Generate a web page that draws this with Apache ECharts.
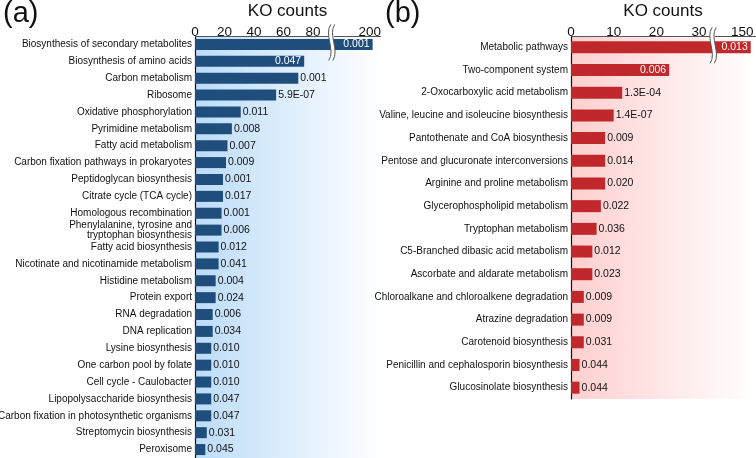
<!DOCTYPE html>
<html><head><meta charset="utf-8">
<script src="https://cdn.jsdelivr.net/npm/echarts@6/dist/echarts.min.js"></script>
<style>html,body{margin:0;padding:0;background:#fff}#c{width:756px;height:458px}</style>
</head><body><div id="c"></div>
<script>
const categoriesA = ['Biosynthesis of secondary metabolites','Biosynthesis of amino acids','Carbon metabolism','Ribosome','Oxidative phosphorylation','Pyrimidine metabolism','Fatty acid metabolism','Carbon fixation pathways in prokaryotes','Peptidoglycan biosynthesis','Citrate cycle (TCA cycle)','Homologous recombination','Phenylalanine, tyrosine and\ntryptophan biosynthesis','Fatty acid biosynthesis','Nicotinate and nicotinamide metabolism','Histidine metabolism','Protein export','RNA degradation','DNA replication','Lysine biosynthesis','One carbon pool by folate','Cell cycle - Caulobacter','Lipopolysaccharide biosynthesis','Carbon fixation in photosynthetic organisms','Streptomycin biosynthesis','Peroxisome'];
const countsA = [202,74,70,55,31,25,22,21,19,19,18,18,16,16,14,14,12,12,11,11,11,11,11,8,7];
const pvalsA = ['0.001','0.047','0.001','5.9E-07','0.011','0.008','0.007','0.009','0.001','0.017','0.001','0.006','0.012','0.041','0.004','0.024','0.006','0.034','0.010','0.010','0.010','0.047','0.047','0.031','0.045'];
const ticksA = [0,20,40,60,80,200];
const breakA = [91,176];

const categoriesB = ['Metabolic pathways','Two-component system','2-Oxocarboxylic acid metabolism','Valine, leucine and isoleucine biosynthesis','Pantothenate and CoA biosynthesis','Pentose and glucuronate interconversions','Arginine and proline metabolism','Glycerophospholipid metabolism','Tryptophan metabolism','C5-Branched dibasic acid metabolism','Ascorbate and aldarate metabolism','Chloroalkane and chloroalkene degradation','Atrazine degradation','Carotenoid biosynthesis','Penicillin and cephalosporin biosynthesis','Glucosinolate biosynthesis'];
const countsB = [152,23,12,10,8,8,8,7,6,5,5,3,3,3,2,2];
const pvalsB = ['0.013','0.006','1.3E-04','1.4E-07','0.009','0.014','0.020','0.022','0.036','0.012','0.023','0.009','0.009','0.031','0.044','0.044'];
const ticksB = [0,10,20,30,150];
const breakB = [32.7,143.8];

const FONT = '"Liberation Sans", Arial, sans-serif';
const chart = echarts.init(document.getElementById('c'), null, {renderer:'canvas'});

function grad(c0){
  return new echarts.graphic.LinearGradient(0,0,1,0,[{offset:0,color:c0},{offset:1,color:'#ffffff'}]);
}
function barData(vals){
  return vals.map((v,i)=>({
    value:v,
    label: i<2 ? {position:'insideRight', color:'#fff', distance:3} : {position:'right', color:'#111', distance:2}
  }));
}
function xAx(gi, max, br, gap, ticks){
  return {
    gridIndex:gi, type:'value', position:'top', min:0, max:max,
    breaks:[{start:br[0], end:br[1], gap:gap}],
    breakArea:{show:false},
    name:'KO counts', nameLocation:'middle', nameGap:7.5,
    nameTextStyle:{fontFamily:FONT, fontSize:17, color:'#111'},
    axisLine:{show:true, lineStyle:{color:'#555', width:1}},
    axisTick:{show:false},
    splitLine:{show:false},
    axisLabel:{customValues:ticks, fontFamily:FONT, fontSize:13.5, color:'#111', margin:-3, showMinLabel:true, showMaxLabel:true}
  };
}
function yAx(gi, cats){
  return {
    gridIndex:gi, type:'category', data:cats, inverse:true,
    axisLine:{show:true, lineStyle:{color:'#111', width:1.2}},
    axisTick:{show:false},
    axisLabel:{fontFamily:FONT, fontSize:10, color:'#111', margin:3, lineHeight:9.5, interval:0}
  };
}
const option = {
  animation:false,
  backgroundColor:'#fff',
  title:[
    {text:'(a)', left:3, top:-1, padding:0, textStyle:{fontFamily:FONT, fontSize:29, fontWeight:'normal', color:'#111'}},
    {text:'(b)', left:385, top:-1, padding:0, textStyle:{fontFamily:FONT, fontSize:29, fontWeight:'normal', color:'#111'}}
  ],
  grid:[
    {left:195, top:36, right:376, bottom:0, show:true, borderWidth:0, outerBoundsMode:'none', containLabel:false, backgroundColor:grad('#bcdcf9')},
    {left:571, top:36, right:1, height:363, show:true, borderWidth:0, outerBoundsMode:'none', containLabel:false, backgroundColor:grad('#ffcfcf')}
  ],
  xAxis:[xAx(0,207,breakA,3.4,ticksA), xAx(1,153,breakB,1.2,ticksB)],
  yAxis:[yAx(0,categoriesA), yAx(1,categoriesB)],
  series:[
    {type:'bar', xAxisIndex:0, yAxisIndex:0, barWidth:11, data:barData(countsA),
     itemStyle:{color:'#1f4e7c'},
     label:{show:true, fontFamily:FONT, fontSize:10.5, formatter:p=>pvalsA[p.dataIndex]}},
    {type:'bar', xAxisIndex:1, yAxisIndex:1, barWidth:12, data:barData(countsB),
     itemStyle:{color:'#c0282b'},
     label:{show:true, fontFamily:FONT, fontSize:10.5, formatter:p=>pvalsB[p.dataIndex]}}
  ]
};
chart.setOption(option);

// break marks, positioned through the axis scale
function bez(p0,p1,p2,p3,n){
  const pts=[];
  for(let k=0;k<=n;k++){const t=k/n,u=1-t;
    pts.push([u*u*u*p0[0]+3*u*u*t*p1[0]+3*u*t*t*p2[0]+t*t*t*p3[0], u*u*u*p0[1]+3*u*u*t*p1[1]+3*u*t*t*p2[1]+t*t*t*p3[1]]);}
  return pts;
}
function breakMark(gi, br, cat){
  const a = chart.convertToPixel({xAxisIndex:gi, yAxisIndex:gi}, [br[0], cat]);
  const b = chart.convertToPixel({xAxisIndex:gi, yAxisIndex:gi}, [br[1], cat]);
  const x1 = a[0]+0.5, x2 = b[0]-0.5, y = a[1];
  const t = y-20, bt = y+16, m = (t+bt)/2;
  const cp = (x)=>[[x+1,t],[x-6,m-8],[x+6,m+8],[x-1,bt]];
  const c1 = cp(x1), c2 = cp(x2);
  const poly = bez(...c1,16).concat(bez(...c2,16).reverse());
  const line = (c)=>({type:'bezierCurve', shape:{x1:c[0][0],y1:c[0][1],cpx1:c[1][0],cpy1:c[1][1],cpx2:c[2][0],cpy2:c[2][1],x2:c[3][0],y2:c[3][1]}, style:{fill:null, stroke:'#555', lineWidth:1}, z:101});
  return [
    {type:'polygon', shape:{points:poly}, style:{fill:'#fff', stroke:null}, z:100},
    line(c1), line(c2)
  ];
}
chart.setOption({graphic: breakMark(0, breakA, categoriesA[0]).concat(breakMark(1, breakB, categoriesB[0]))});
</script></body></html>
